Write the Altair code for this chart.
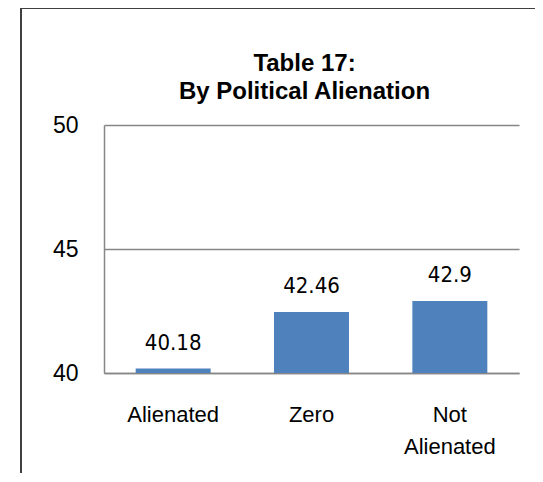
import altair as alt
import pandas as pd

categories = ["Alienated", "Zero", "Not Alienated"]
values = [40.18, 42.46, 42.9]
labels = ["40.18", "42.46", "42.9"]
y_ticks = [40, 45, 50]
title_lines = ["Table 17:", "By Political Alienation"]

df = pd.DataFrame({"cat": categories, "val": values, "lab": labels})
tdf = pd.DataFrame({"t": title_lines, "i": [0, 1]})

W, H = 415, 248
PL, PT = 96, 117

x = alt.X("cat:N", sort=categories, title=None,
          scale=alt.Scale(paddingInner=0.458, paddingOuter=0.229),
          axis=alt.Axis(labelAngle=0, labelFont="Liberation Sans", labelFontSize=22,
                        labelColor="black", labelPadding=31, ticks=False, grid=False,
                        domainColor="#868686", domainWidth=1.5,
                        labelExpr="split(datum.value, ' ')", labelLineHeight=32,
                        labelBaseline="top"))
y = alt.Y("val:Q", title=None,
          scale=alt.Scale(domain=[40, 50], zero=False, nice=False),
          axis=alt.Axis(values=y_ticks, labelFont="Liberation Sans", labelFontSize=23,
                        labelColor="black", labelPadding=26, ticks=False,
                        domainColor="#868686", domainWidth=1.5,
                        gridColor="#868686", gridWidth=1.5))

base = alt.Chart(df)
bars = base.mark_bar(color="#4F81BD").encode(x=x, y=y, y2=alt.datum(40))
text = base.mark_text(font="Liberation Sans Narrow, DejaVu Sans Condensed", fontSize=22,
                      baseline="bottom", dy=-14, color="black").encode(
    x=alt.X("cat:N", sort=categories), y="val:Q", text="lab:N")

tbase = alt.Chart(tdf).mark_text(font="Liberation Sans", fontSize=24, fontWeight="bold",
                                 color="black", baseline="middle")
title1 = tbase.transform_filter("datum.i == 0").encode(
    x=alt.value(W / 2 - 7), y=alt.value(-61), text="t:N")
title2 = tbase.transform_filter("datum.i == 1").encode(
    x=alt.value(W / 2 - 7), y=alt.value(-33), text="t:N")

# decorative outer frame (chart area border)
frame_v = alt.Chart(df).mark_rule(color="#404040", strokeWidth=2).encode(
    x=alt.value(-83), y=alt.value(-117), y2=alt.value(H + 120))
frame_h = alt.Chart(df).mark_rule(color="#404040", strokeWidth=2).encode(
    x=alt.value(-84), x2=alt.value(W + 40), y=alt.value(-117))

chart = alt.layer(bars, text, title1, title2, frame_v, frame_h).properties(
    width=W, height=H,
    view=alt.ViewBackground(stroke="transparent", strokeWidth=0, strokeOpacity=0),
    autosize=alt.AutoSizeParams(type="none"),
    padding={"left": PL, "top": PT, "right": 16, "bottom": 100},
).configure_view(stroke="transparent", strokeWidth=0, strokeOpacity=0).configure(background="white")

chart.save("out.html", embed_options={"renderer": "svg", "actions": False})
